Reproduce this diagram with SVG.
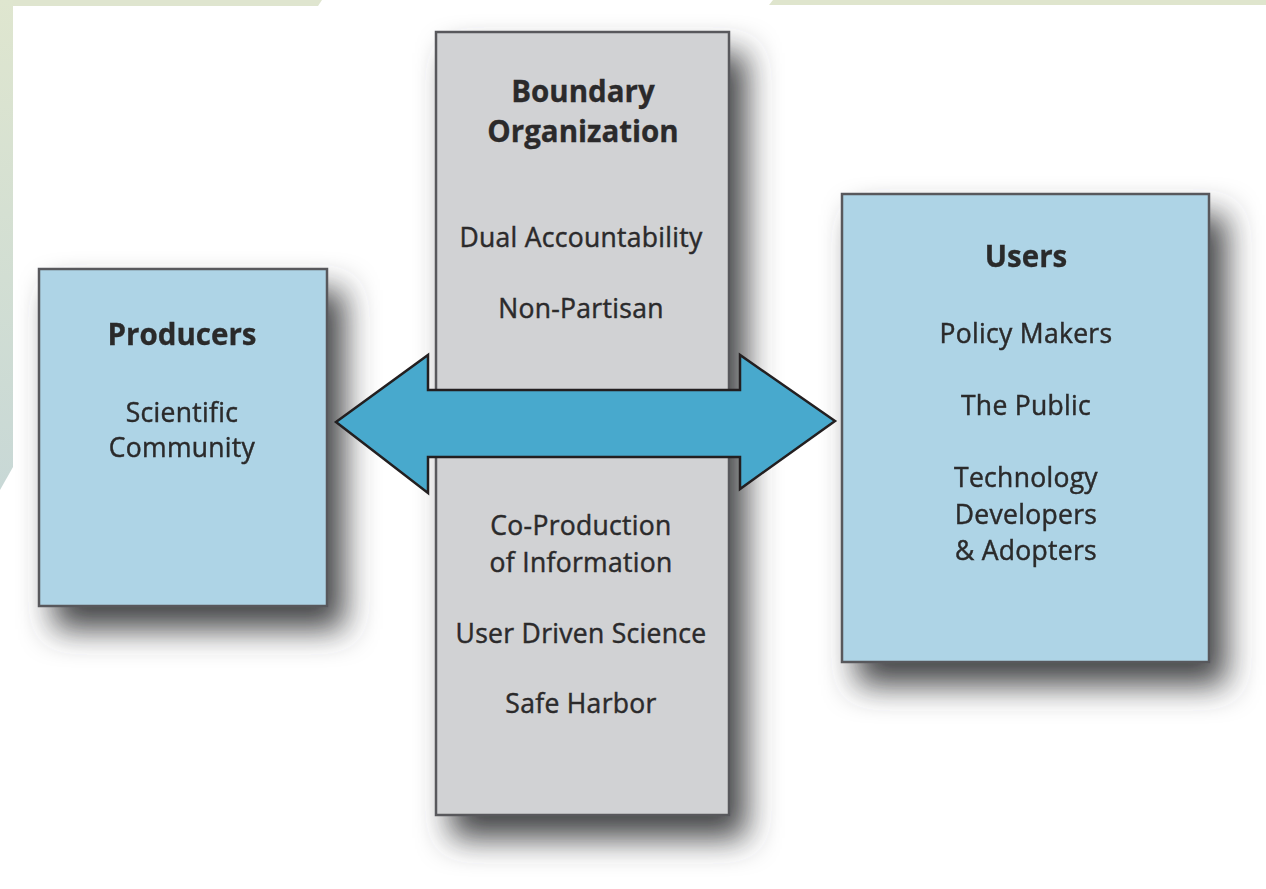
<svg xmlns="http://www.w3.org/2000/svg" width="1266" height="889" viewBox="0 0 1266 889">
<defs>
<linearGradient id="gstrip" x1="0" y1="0" x2="0" y2="1">
<stop offset="0" stop-color="#dfe6cf"/>
<stop offset="1" stop-color="#c8d8d6"/>
</linearGradient>
<filter id="shadow" x="-30%" y="-30%" width="170%" height="170%">
<feGaussianBlur in="SourceAlpha" stdDeviation="16"/>
<feOffset dx="16" dy="22" result="b"/>
<feFlood flood-color="#3a3b3d" flood-opacity="0.95"/>
<feComposite in2="b" operator="in"/>
<feMerge><feMergeNode/><feMergeNode in="SourceGraphic"/></feMerge>
</filter>
<style>
.blue{fill:#aed4e6;stroke:#58595b;stroke-width:2.5}
.gray{fill:#d1d2d4;stroke:#58595b;stroke-width:2.5}
text{font-family:"Open Sans","Liberation Sans",sans-serif;fill:#2b2a2b;stroke:#2b2a2b;stroke-width:0.45;text-anchor:middle;font-size:26.5px;letter-spacing:0.3px}
.h{font-weight:bold;font-size:29.5px;letter-spacing:0;stroke-width:0.3}
</style>
</defs>
<rect width="1266" height="889" fill="#ffffff"/>
<g id="background">
<polygon points="0,0 322,0 318,6 0,6" fill="#dfe5cf"/>
<polygon points="0,0 13,0 13,467 0,490" fill="url(#gstrip)"/>
<polygon points="773,0 1266,0 1266,5 769,5" fill="#dfe5cd"/>
</g>
<g id="producers" filter="url(#shadow)">
<rect class="blue" x="39" y="269" width="288" height="337"/>
<text class="h" x="182" y="345">Producers</text>
<text x="182" y="422">Scientific</text>
<text x="182" y="457">Community</text>
</g>
<g id="boundary" filter="url(#shadow)">
<rect class="gray" x="436" y="32" width="293" height="783"/>
</g>
<g id="users" filter="url(#shadow)">
<rect class="blue" x="842" y="194" width="367" height="468"/>
<text class="h" x="1026" y="267">Users</text>
<text x="1026" y="343">Policy Makers</text>
<text x="1026" y="415">The Public</text>
<text x="1026" y="487">Technology</text>
<text x="1026" y="524">Developers</text>
<text x="1026" y="560">&amp; Adopters</text>
</g>
<g id="connectors">
<polygon points="336,422 428,355 428,390 740,390 740,355 835,421 740,489 740,457 428,457 428,493" fill="#48a9cd" stroke="#231f20" stroke-width="2.5" stroke-linejoin="miter"/>
</g>
<g id="boundary-labels">
<text class="h" x="583" y="102">Boundary</text>
<text class="h" x="583" y="142">Organization</text>
<text x="581" y="247">Dual Accountability</text>
<text x="581" y="318">Non-Partisan</text>
<text x="581" y="535">Co-Production</text>
<text x="581" y="572">of Information</text>
<text x="581" y="643">User Driven Science</text>
<text x="581" y="713">Safe Harbor</text>
</g>
</svg>
